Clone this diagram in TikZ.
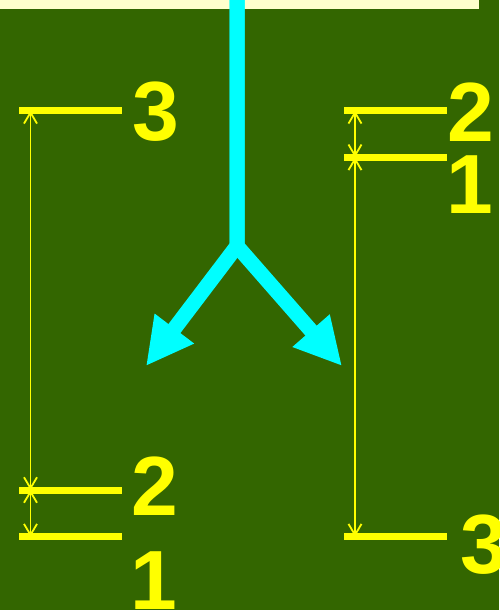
\documentclass[tikz,border=0pt]{standalone}
\usepackage{fontspec}
\setmainfont{Liberation Sans}
\usetikzlibrary{arrows.meta}
\definecolor{bg}{HTML}{336600}
\definecolor{band}{HTML}{FFFFCC}
\definecolor{ylw}{HTML}{FFFF00}
\definecolor{cyn}{HTML}{00FFFF}
\tikzset{
  flowline/.style={draw=cyn, line width=15pt, line join=miter},
  flowhead/.style={-{Triangle[length=47pt,width=46pt]}},
  levelline/.style={draw=ylw, line width=7pt},
  dimline/.style={draw=ylw, line width=1.8pt, {Straight Barb[length=11pt,width=13pt]}-{Straight Barb[length=11pt,width=13pt]}},
  digit/.style={text=ylw, inner sep=0pt, anchor=base, font=\fontsize{84}{84}\selectfont\bfseries}
}
\begin{document}
\begin{tikzpicture}[x=1pt,y=-1pt]
\fill[bg] (0,0) rectangle (499,610);
\useasboundingbox (0,0) rectangle (499,610);
\fill[band] (0,0) rectangle (479,9);
% cyan flow
\coordinate (top) at (237,0);
\coordinate (split) at (237,246);
\coordinate (ltip) at (146,366);
\coordinate (rtip) at (342,366);
\draw[flowline, flowhead] (top) -- (split) -- (ltip);
\draw[flowline, flowhead] (top) -- (split) -- (rtip);
% left levels
\coordinate (la) at (19,110.8);  \coordinate (lae) at (122,110.8);
\coordinate (lb) at (19,490);    \coordinate (lbe) at (122,490);
\coordinate (lc) at (19,536.7);  \coordinate (lce) at (122,536.7);
\draw[levelline] (la) -- (lae);
\draw[levelline] (lb) -- (lbe);
\draw[levelline] (lc) -- (lce);
\coordinate (lda) at (30.5,110.8);
\coordinate (ldb) at (30.5,490);
\coordinate (ldc) at (30.5,536.7);
\draw[dimline] (lda) -- (ldb);
\draw[dimline] (ldb) -- (ldc);
% right levels
\coordinate (ra) at (344,110.8);  \coordinate (rae) at (447,110.8);
\coordinate (rb) at (344,157.3);  \coordinate (rbe) at (447,157.3);
\coordinate (rc) at (344,536.7);  \coordinate (rce) at (447,536.7);
\draw[levelline] (ra) -- (rae);
\draw[levelline] (rb) -- (rbe);
\draw[levelline] (rc) -- (rce);
\coordinate (rda) at (355,110.8);
\coordinate (rdb) at (355,157.3);
\coordinate (rdc) at (355,536.7);
\draw[dimline] (rda) -- (rdb);
\draw[dimline] (rdb) -- (rdc);
% labels
\node[digit] (lt3) at (156,140) {3};
\node[digit] (lt2) at (155,515) {2};
\node[digit] (lt1) at (154,609) {1};
\node[digit] (rt2) at (471,141) {2};
\node[digit] (rt1) at (470,213) {1};
\node[digit] (rt3) at (484,573) {3};
\end{tikzpicture}
\end{document}
